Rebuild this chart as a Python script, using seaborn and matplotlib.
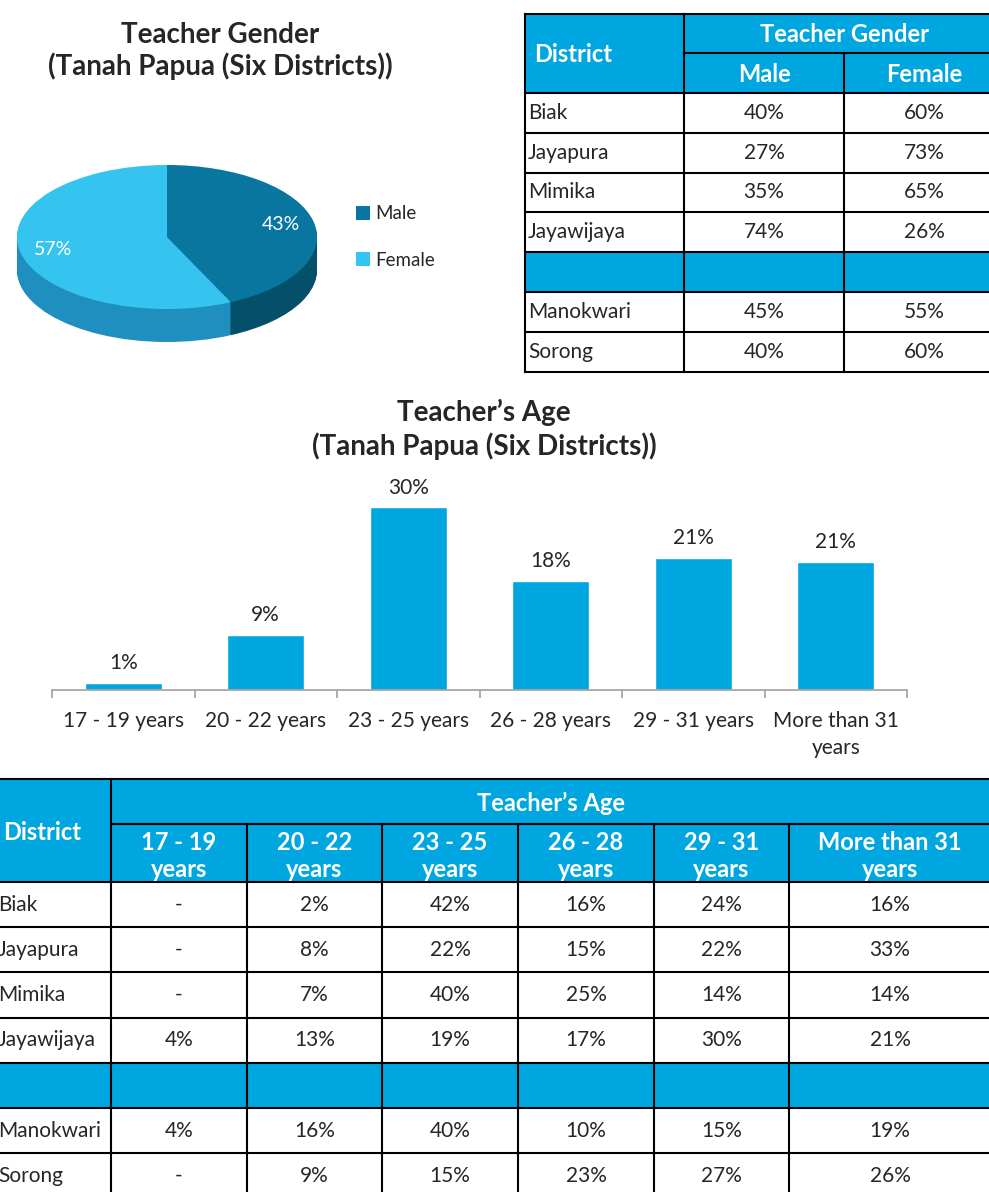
import numpy as np
import matplotlib
matplotlib.use("Agg")
import matplotlib.pyplot as plt
from matplotlib.patches import Rectangle
import seaborn as sns

# ---- data ----
# pie: teacher gender (all six districts)
gender_labels = ["Male", "Female"]
gender_share = [43, 57]

# gender table
districts = ["Biak", "Jayapura", "Mimika", "Jayawijaya", "Manokwari", "Sorong"]
male_pct = ["40%", "27%", "35%", "74%", "45%", "40%"]
female_pct = ["60%", "73%", "65%", "26%", "55%", "60%"]

# bar chart: teacher's age
age_groups = ["17 - 19 years", "20 - 22 years", "23 - 25 years",
              "26 - 28 years", "29 - 31 years", "More than 31\nyears"]
age_share = [1.2, 9.1, 30.0, 17.9, 21.7, 21.0]
age_labels = ["1%", "9%", "30%", "18%", "21%", "21%"]

# age table
age_cols = ["17 - 19\nyears", "20 - 22\nyears", "23 - 25\nyears",
            "26 - 28\nyears", "29 - 31\nyears", "More than 31\nyears"]
biak_age = ["-", "2%", "42%", "16%", "24%", "16%"]
jayapura_age = ["-", "8%", "22%", "15%", "22%", "33%"]
mimika_age = ["-", "7%", "40%", "25%", "14%", "14%"]
jayawijaya_age = ["4%", "13%", "19%", "17%", "30%", "21%"]
manokwari_age = ["4%", "16%", "40%", "10%", "15%", "19%"]
sorong_age = ["-", "9%", "15%", "23%", "27%", "26%"]
age_table = [biak_age, jayapura_age, mimika_age, jayawijaya_age, manokwari_age, sorong_age]

# ---- style ----
sns.set_theme(style="white")
plt.rcParams["font.family"] = ["Lato", "DejaVu Sans"]

BLUE = "#00a6e0"
MALE_TOP, FEMALE_TOP = "#08769f", "#35c4f0"
MALE_SIDE, FEMALE_SIDE = "#04506b", "#1f8fbf"
FS = 15      # body text
HFS = 17     # table header text
TFS = 20     # chart titles

W, H = 989, 1192
fig = plt.figure(figsize=(W / 100, H / 100), dpi=100)

# full figure canvas in pixel units for the tables and titles
canvas = fig.add_axes([0, 0, 1, 1])
canvas.set_xlim(0, W)
canvas.set_ylim(H, 0)
canvas.axis("off")


def px_axes(x0, y0, x1, y1):
    return fig.add_axes([x0 / W, 1 - y1 / H, (x1 - x0) / W, (y1 - y0) / H])


def hline(y, x0, x1):
    canvas.plot([x0, x1], [y, y], color="black", lw=1.5, solid_capstyle="projecting")


def vline(x, y0, y1):
    canvas.plot([x, x], [y0, y1], color="black", lw=1.5, solid_capstyle="projecting")


def fill(x0, y0, x1, y1):
    canvas.add_patch(Rectangle((x0, y0), x1 - x0, y1 - y0, color=BLUE, lw=0))


# ---- pie chart (flattened, with a side) ----
canvas.text(220, 35, "Teacher Gender", ha="center", va="center", fontsize=TFS, fontweight="bold")
canvas.text(220, 66, "(Tanah Papua (Six Districts))", ha="center", va="center", fontsize=TFS, fontweight="bold")

depth = 33 / 72
pie_ax = px_axes(17, 165, 317, 342)
for d in np.linspace(depth, 0.02, 40):
    pie_ax.pie(gender_share, startangle=90, counterclock=False, center=(0, -d),
               colors=[MALE_SIDE, FEMALE_SIDE], wedgeprops=dict(linewidth=0))
wedges, _, pcts = pie_ax.pie(gender_share, startangle=90, counterclock=False,
                             colors=[MALE_TOP, FEMALE_TOP], autopct="%.0f%%", pctdistance=0.78,
                             wedgeprops=dict(linewidth=0), textprops=dict(color="white", fontsize=14))
pie_ax.set_aspect("auto")
pie_ax.set_xlim(-1, 1)
pie_ax.set_ylim(-1 - depth, 1)

pie_ax.legend(wedges, gender_labels, loc="center left", bbox_to_anchor=(356 / W, 1 - 237 / H),
              bbox_transform=fig.transFigure, frameon=False, fontsize=13.5, borderpad=0,
              borderaxespad=0, handlelength=0.75, handleheight=0.75, handletextpad=0.3,
              labelspacing=1.55)

# ---- gender table ----
row_h = 39.8
fill(525, 14, 1004, 93)
rows_y = [93 + i * row_h for i in range(8)]
fill(525, rows_y[4], 1004, rows_y[5])
hline(14, 525, 1004)
hline(53, 684, 1004)
for y in rows_y:
    hline(y, 525, 1004)
vline(525, 14, rows_y[-1])
vline(684, 14, rows_y[-1])
vline(844, 53, rows_y[-1])
canvas.text(534, 55, "District", ha="left", va="center", color="white", fontsize=HFS, fontweight="bold")
canvas.text(845, 35, "Teacher Gender", ha="center", va="center", color="white", fontsize=HFS, fontweight="bold")
canvas.text(764, 75, "Male", ha="center", va="center", color="white", fontsize=HFS, fontweight="bold")
canvas.text(924, 75, "Female", ha="center", va="center", color="white", fontsize=HFS, fontweight="bold")
r = 0
for i, name in enumerate(districts):
    if i == 4:
        r += 1  # blue gap row
    yc = (rows_y[r] + rows_y[r + 1]) / 2
    canvas.text(528, yc, name, ha="left", va="center", fontsize=FS)
    canvas.text(764, yc, male_pct[i], ha="center", va="center", fontsize=FS)
    canvas.text(924, yc, female_pct[i], ha="center", va="center", fontsize=FS)
    r += 1

# ---- bar chart ----
canvas.text(484, 412, "Teacher\u2019s Age", ha="center", va="center", fontsize=TFS, fontweight="bold")
canvas.text(484, 446, "(Tanah Papua (Six Districts))", ha="center", va="center", fontsize=TFS, fontweight="bold")

bar_ax = px_axes(52, 480, 907, 690)
sns.barplot(x=age_groups, y=age_share, color=BLUE, saturation=1, width=0.54, ax=bar_ax)
bar_ax.bar_label(bar_ax.containers[0], labels=age_labels, padding=7, fontsize=FS)
bar_ax.set_xlim(-0.5, 5.5)
bar_ax.set_ylim(0, 210 / 6.09)
bar_ax.set_yticks([])
bar_ax.set_ylabel("")
sns.despine(ax=bar_ax, left=True)
bar_ax.spines["bottom"].set_color("#a6a6a6")
bar_ax.spines["bottom"].set_linewidth(1.3)
bar_ax.set_xticks(np.arange(-0.5, 6, 1), minor=True)
bar_ax.tick_params(axis="x", which="minor", length=6, width=1.3, color="#a6a6a6", bottom=True)
bar_ax.tick_params(axis="x", which="major", length=0, pad=15, labelsize=FS)
for lab in bar_ax.get_xticklabels():
    lab.set_linespacing(1.45)
bar_ax.patch.set_alpha(0)

# ---- age table ----
bx = [111, 247, 382, 518, 654, 789, 991]
by = [882 + i * 45.2 for i in range(8)]
fill(-10, 779, 1000, 882)
fill(-10, by[4], 1000, by[5])
hline(779, -10, 1000)
hline(824, 111, 1000)
for y in by:
    hline(y, -10, 1000)
vline(111, 779, 1200)
for x in bx[1:-1]:
    vline(x, 824, 1200)
canvas.text(3, 833, "District", ha="left", va="center", color="white", fontsize=HFS, fontweight="bold")
canvas.text(551, 803, "Teacher\u2019s Age", ha="center", va="center", color="white", fontsize=HFS, fontweight="bold")
centers = [(bx[j] + bx[j + 1]) / 2 for j in range(6)]
for j, col in enumerate(age_cols):
    canvas.text(centers[j], 856, col, ha="center", va="center", color="white", fontsize=HFS,
                fontweight="bold", linespacing=1.2)
r = 0
for i, name in enumerate(districts):
    if i == 4:
        r += 1  # blue gap row
    yc = (by[r] + by[r + 1]) / 2
    canvas.text(-2, yc, name, ha="left", va="center", fontsize=FS)
    for j in range(6):
        canvas.text(centers[j], yc, age_table[i][j], ha="center", va="center", fontsize=FS)
    r += 1

fig.savefig("out.png", dpi=100)
